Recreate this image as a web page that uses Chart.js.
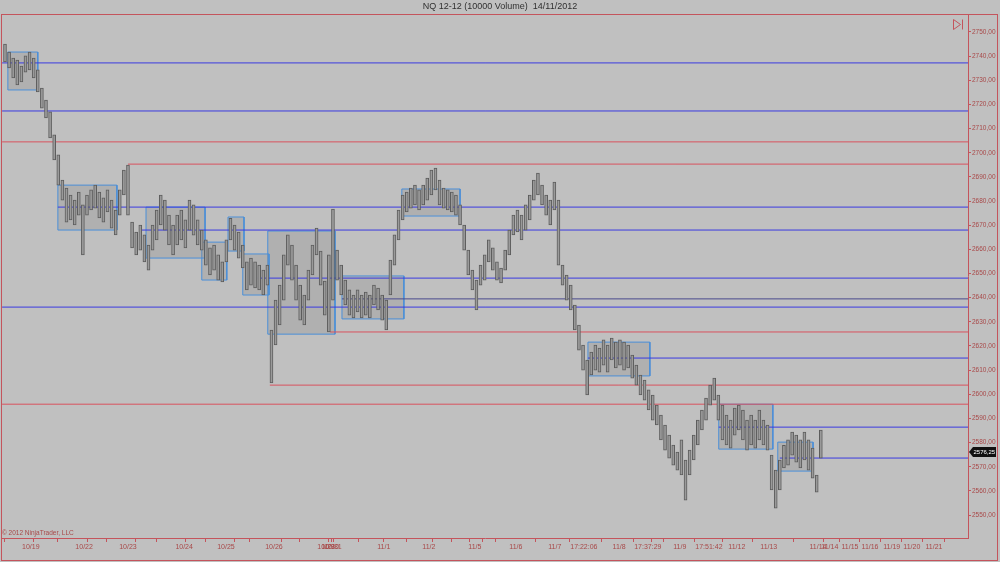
<!DOCTYPE html>
<html>
<head>
<meta charset="utf-8">
<title>NQ 12-12 (10000 Volume)</title>
<script src="https://cdn.jsdelivr.net/npm/chart.js@4.4.1/dist/chart.umd.min.js"></script>
<style>
    html, body { margin: 0; padding: 0; background: #c0c0c0; }
    #wrap { width: 1000px; height: 562px; position: relative; }
</style>
</head>
<body>
<div id="wrap"><canvas id="graph"></canvas></div>
<script>
// Bar highs / lows, one entry per 10000-volume bar
const highs = [
    2745.0, 2741.7, 2739.2, 2738.4, 2735.9, 2740.1, 2741.7, 2739.2, 2734.3, 2726.8,
    2721.8, 2716.9, 2707.4, 2699.1, 2688.7, 2685.4, 2682.5, 2680.4, 2683.7, 2678.4,
    2682.5, 2684.6, 2686.6, 2683.7, 2681.3, 2684.6, 2680.4, 2676.3, 2684.6, 2692.8,
    2694.9, 2671.3, 2667.2, 2670.1, 2666.0, 2661.8, 2670.1, 2676.3, 2682.5, 2680.4,
    2674.2, 2670.1, 2674.2, 2676.3, 2672.2, 2680.4, 2678.4, 2672.2, 2668.0, 2663.9,
    2660.6, 2661.8, 2657.7, 2654.8, 2663.9, 2672.9, 2670.1, 2667.2, 2661.8, 2654.8,
    2656.4, 2654.8, 2653.5, 2651.4, 2653.5, 2626.6, 2639.0, 2645.2, 2657.7, 2666.0,
    2661.8, 2653.5, 2645.2, 2641.1, 2651.4, 2661.8, 2668.8, 2659.3, 2646.9, 2657.7,
    2676.7, 2659.7, 2653.5, 2647.3, 2643.2, 2641.1, 2643.2, 2641.1, 2642.3, 2641.1,
    2645.2, 2644.0, 2641.1, 2639.0, 2655.6, 2666.0, 2676.3, 2682.5, 2683.7, 2685.4,
    2686.6, 2684.6, 2686.6, 2689.5, 2692.8, 2693.7, 2688.7, 2685.4, 2684.6, 2683.7,
    2682.5, 2678.4, 2670.1, 2659.7, 2651.4, 2647.3, 2653.5, 2657.7, 2663.9, 2660.6,
    2654.8, 2652.3, 2659.7, 2668.0, 2674.2, 2676.3, 2674.2, 2678.4, 2682.5, 2688.7,
    2691.6, 2686.6, 2682.5, 2680.4, 2687.9, 2680.4, 2653.5, 2649.4, 2645.2, 2636.9,
    2628.7, 2620.4, 2614.2, 2617.5, 2620.4, 2619.1, 2622.5, 2620.4, 2623.3, 2621.6,
    2622.5, 2621.6, 2620.4, 2616.2, 2612.1, 2608.0, 2605.9, 2601.8, 2599.7, 2595.5,
    2591.4, 2587.3, 2583.1, 2579.0, 2576.1, 2581.1, 2572.8, 2576.9, 2583.1, 2589.3,
    2593.5, 2598.4, 2603.8, 2606.7, 2599.7, 2595.5, 2591.4, 2589.3, 2594.3, 2595.5,
    2593.5, 2589.3, 2591.4, 2589.3, 2593.5, 2589.3, 2587.3, 2574.8, 2568.6, 2572.8,
    2578.9, 2581.1, 2584.4, 2583.1, 2581.1, 2584.4, 2581.1, 2577.7, 2566.6, 2585.2
];
const lows = [
    2737.6, 2735.1, 2731.0, 2728.1, 2729.3, 2733.4, 2734.3, 2731.0, 2725.2, 2718.5,
    2714.4, 2706.1, 2697.0, 2686.6, 2680.4, 2671.3, 2672.2, 2670.1, 2674.2, 2657.7,
    2674.2, 2676.3, 2677.1, 2673.0, 2671.3, 2675.5, 2668.8, 2666.0, 2674.2, 2682.5,
    2674.2, 2660.6, 2657.7, 2659.7, 2654.8, 2651.4, 2659.7, 2663.9, 2670.1, 2668.0,
    2661.8, 2657.7, 2661.8, 2663.9, 2660.6, 2668.0, 2665.9, 2661.8, 2659.7, 2653.5,
    2649.4, 2651.4, 2647.3, 2646.5, 2654.8, 2663.9, 2659.7, 2656.4, 2652.3, 2643.2,
    2645.2, 2644.0, 2643.2, 2641.1, 2645.2, 2604.7, 2620.4, 2628.7, 2639.0, 2653.5,
    2647.3, 2639.0, 2630.7, 2628.7, 2639.0, 2649.4, 2657.7, 2645.2, 2632.8, 2625.8,
    2639.0, 2647.3, 2641.1, 2637.0, 2632.8, 2631.6, 2634.1, 2631.6, 2632.8, 2631.6,
    2637.0, 2634.9, 2630.7, 2626.6, 2641.1, 2653.5, 2663.9, 2672.2, 2675.5, 2677.1,
    2678.4, 2676.3, 2678.4, 2680.4, 2682.5, 2684.6, 2678.4, 2677.1, 2676.3, 2675.5,
    2674.2, 2670.1, 2659.7, 2649.4, 2643.2, 2634.9, 2645.2, 2647.3, 2654.8, 2651.4,
    2647.3, 2646.1, 2651.4, 2657.7, 2666.0, 2667.2, 2663.9, 2668.0, 2672.2, 2680.4,
    2682.5, 2678.4, 2674.2, 2670.1, 2676.3, 2653.5, 2645.2, 2639.0, 2634.9, 2626.6,
    2618.3, 2610.0, 2599.7, 2608.0, 2610.0, 2609.2, 2612.1, 2609.2, 2614.2, 2610.9,
    2612.1, 2610.0, 2610.9, 2606.7, 2603.8, 2599.7, 2597.6, 2593.5, 2589.3, 2587.3,
    2581.1, 2576.9, 2573.6, 2570.7, 2568.6, 2566.6, 2556.2, 2566.6, 2572.8, 2579.0,
    2585.2, 2589.3, 2595.5, 2597.6, 2589.3, 2581.1, 2579.0, 2577.7, 2583.1, 2585.2,
    2581.1, 2576.9, 2579.0, 2577.7, 2581.1, 2579.0, 2576.9, 2560.4, 2552.9, 2560.4,
    2569.5, 2570.7, 2574.8, 2571.9, 2569.5, 2572.8, 2568.6, 2565.3, 2559.5, 2573.6
];
const lastPrice = 2576.25;

// Horizontal levels: price and the bar they start from
const blueLevels = [2737.2, 2717.3, 2677.5, 2668.0, 2648.1, 2636.1, 2615.0, 2586.4, 2573.6];
const blueLevelFrom = [-0.7, -0.7, 12.9, 33.4, 61.7, -0.7, 142.2, 174.1, 189.0];
const redLevels = [2704.5, 2695.3, 2625.8, 2603.8, 2595.9];
const redLevelFrom = [-0.7, 30.0, 79.3, 64.6, -0.7];
const darkLevels = [2639.5];
const darkLevelFrom = [82.2];

// Consolidation boxes
const boxFrom = [0.7, 12.9, 34.4, 48.0, 54.4, 58.0, 64.1, 82.2, 96.8, 142.2, 174.1, 188.5];
const boxTo = [8.0, 27.3, 48.8, 54.1, 58.3, 64.4, 80.5, 97.3, 111.0, 157.3, 187.3, 197.1];
const boxHigh = [2741.7, 2686.6, 2677.5, 2663.0, 2673.4, 2658.1, 2667.6, 2649.0, 2685.0, 2621.6, 2595.9, 2580.2];
const boxLow = [2726.0, 2668.0, 2656.4, 2647.3, 2659.3, 2641.1, 2624.9, 2631.2, 2673.8, 2607.6, 2577.3, 2568.2];

// Time axis labels (bar position -> text)
const xTickValues = [6.3, 19.3, 30.0, 43.7, 53.9, 65.6, 78.3, 79.3, 80.0, 92.4, 103.4, 114.6,
    124.6, 134.1, 141.2, 149.8, 156.8, 164.6, 171.7, 178.5, 186.3, 198.3, 201.2, 206.1, 211.0, 216.3, 221.2, 226.6];
const xTickLabels = ['10/19', '10/22', '10/23', '10/24', '10/25', '10/26', '10/29', '10/30', '10/31', '11/1', '11/2', '11/5',
    '11/6', '11/7', '17:22:06', '11/8', '17:37:29', '11/9', '17:51:42', '11/12', '11/13', '11/14', '11/14', '11/15', '11/16', '11/19', '11/20', '11/21'];
const xMinorTicks = [0.2, 13.7, 26.6, 37.3, 50.7, 61.5, 73.2, 87.1, 97.6, 111.0, 121.9, 193.4];
const yTicks = [2550, 2560, 2570, 2580, 2590, 2600, 2610, 2620, 2630, 2640, 2650,
    2660, 2670, 2680, 2690, 2700, 2710, 2720, 2730, 2740, 2750];

const X_MIN = -0.73;
const X_MAX = 234.9;
const RED = '#c4545c';
const LABEL_RED = '#a84848';
const FONT = '"Liberation Sans", Arial, sans-serif';

document.addEventListener('DOMContentLoaded', function() {
    const barData = highs.map((h, i) => ({ x: i, y: [lows[i], h] }));

    function levelDataset(price, from, color) {
        return {
            type: 'line',
            data: [{ x: from, y: price }, { x: X_MAX, y: price }],
            borderColor: color,
            borderWidth: 1,
            pointRadius: 0,
            fill: false,
            order: 1
        };
    }

    const levelDatasets = [
        ...blueLevels.map((p, i) => levelDataset(p, blueLevelFrom[i], '#3a3ae0')),
        ...redLevels.map((p, i) => levelDataset(p, redLevelFrom[i], '#d8525e')),
        ...darkLevels.map((p, i) => levelDataset(p, darkLevelFrom[i], '#4a4a8e'))
    ];

    const boxDatasets = boxFrom.map((a, i) => {
        const b = boxTo[i];
        return {
            type: 'line',
            data: [
                { x: a, y: boxHigh[i] }, { x: b, y: boxHigh[i] },
                { x: b, y: boxLow[i] }, { x: a, y: boxLow[i] }, { x: a, y: boxHigh[i] }
            ],
            borderColor: '#4b8fd8',
            backgroundColor: 'rgba(140, 140, 140, 0.3)',
            borderWidth: 1,
            pointRadius: 0,
            tension: 0,
            fill: 'shape',
            order: 2
        };
    });

    const allTickPos = [...xTickValues, ...xMinorTicks];
    const allTickText = [...xTickLabels, ...xMinorTicks.map(() => '')];

    // Title, frame, price marker etc.
    const decorations = {
        id: 'decorations',
        beforeDraw(chart) {
            const ctx = chart.ctx;
            ctx.save();
            ctx.fillStyle = '#c0c0c0';
            ctx.fillRect(0, 0, chart.width, chart.height);
            ctx.restore();
        },
        afterDraw(chart) {
            const ctx = chart.ctx;
            const y = chart.scales.y;
            ctx.save();
            ctx.strokeStyle = RED;
            ctx.lineWidth = 1;
            ctx.strokeRect(1.5, 14.5, 996, 546);

            // title
            ctx.fillStyle = '#303030';
            ctx.font = '9px ' + FONT;
            ctx.textAlign = 'center';
            ctx.textBaseline = 'middle';
            ctx.fillText('NQ 12-12 (10000 Volume)  14/11/2012', 500, 6.5);

            // copyright
            ctx.fillStyle = LABEL_RED;
            ctx.font = '6.5px ' + FONT;
            ctx.textAlign = 'left';
            ctx.textBaseline = 'alphabetic';
            ctx.fillText('\u00a9 2012 NinjaTrader, LLC', 2, 535);

            // play-to-end icon
            ctx.beginPath();
            ctx.moveTo(953.5, 19.5);
            ctx.lineTo(953.5, 29.5);
            ctx.lineTo(960.5, 24.5);
            ctx.closePath();
            ctx.moveTo(962.5, 19.5);
            ctx.lineTo(962.5, 29.5);
            ctx.stroke();

            // last price marker
            const py = Math.round(y.getPixelForValue(lastPrice));
            ctx.fillStyle = '#101010';
            ctx.beginPath();
            ctx.moveTo(969, py);
            ctx.lineTo(973, py - 5);
            ctx.lineTo(996, py - 5);
            ctx.lineTo(996, py + 5);
            ctx.lineTo(973, py + 5);
            ctx.closePath();
            ctx.fill();
            ctx.fillStyle = '#ffffff';
            ctx.font = '6px ' + FONT;
            ctx.textBaseline = 'middle';
            ctx.fillText(lastPrice.toFixed(2).replace('.', ','), 973.5, py + 0.5);
            ctx.restore();
        }
    };

    const ctx = document.getElementById('graph').getContext('2d');
    new Chart(ctx, {
        type: 'bar',
        data: {
            datasets: [
                {
                    type: 'bar',
                    data: barData,
                    backgroundColor: '#9a9a9a',
                    borderColor: '#5c5c5c',
                    borderWidth: 1,
                    borderSkipped: false,
                    barThickness: 3,
                    order: 0
                },
                ...levelDatasets,
                ...boxDatasets
            ]
        },
        options: {
            responsive: true,
            maintainAspectRatio: false,
            animation: false,
            events: [],
            layout: { padding: { top: 14, left: 2, right: 0, bottom: 0 } },
            plugins: {
                legend: { display: false },
                tooltip: { enabled: false }
            },
            scales: {
                x: {
                    type: 'linear',
                    min: X_MIN,
                    max: X_MAX,
                    offset: false,
                    afterBuildTicks: s => { s.ticks = allTickPos.map(v => ({ value: v })); },
                    afterFit: s => { s.height = 24; },
                    ticks: {
                        autoSkip: false,
                        maxRotation: 0,
                        padding: 1,
                        color: LABEL_RED,
                        font: { size: 7, family: FONT },
                        callback: (v, i) => allTickText[i]
                    },
                    grid: { drawOnChartArea: false, tickLength: 4, color: RED },
                    border: { color: RED }
                },
                y: {
                    type: 'linear',
                    position: 'right',
                    min: 2540.5,
                    max: 2757.45,
                    afterBuildTicks: s => { s.ticks = yTicks.map(v => ({ value: v })); },
                    afterFit: s => { s.width = 32; },
                    ticks: {
                        padding: 1,
                        color: LABEL_RED,
                        font: { size: 6.5, family: FONT },
                        callback: v => v.toFixed(2).replace('.', ',')
                    },
                    grid: { drawOnChartArea: false, tickLength: 3, color: RED },
                    border: { color: RED }
                }
            }
        },
        plugins: [decorations]
    });
});
</script>
</body>
</html>
